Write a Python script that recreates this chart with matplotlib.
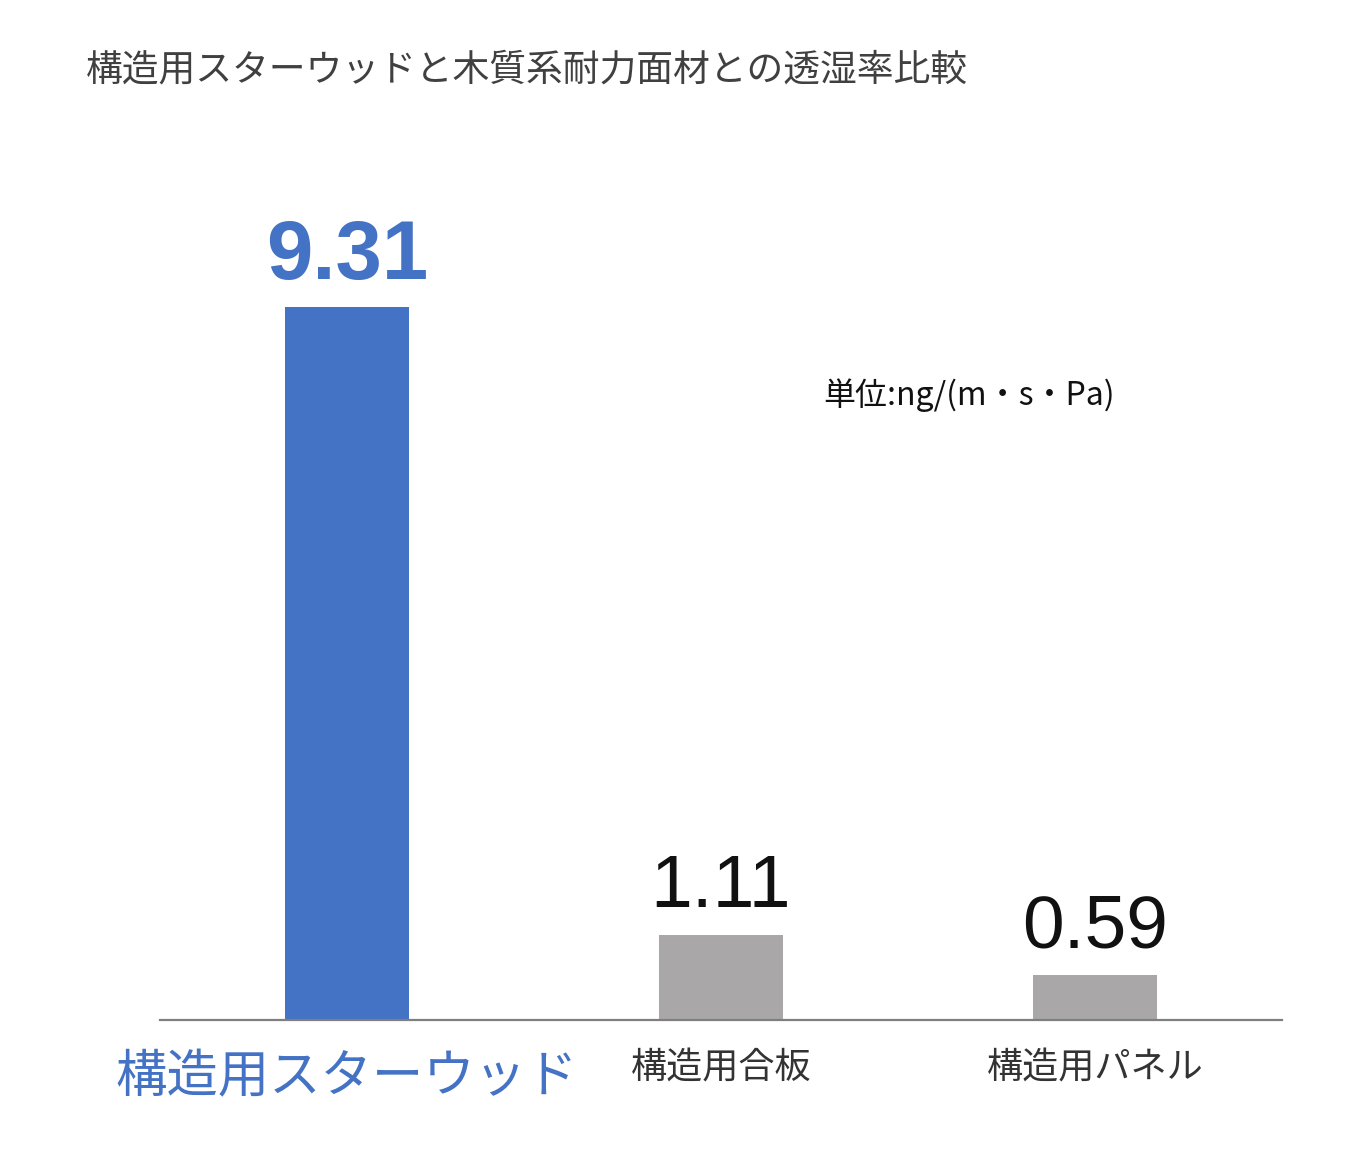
import matplotlib

matplotlib.use("Agg")
import matplotlib.pyplot as plt

plt.rcParams["font.family"] = ["Noto Sans CJK JP", "DejaVu Sans"]

# Data -----------------------------------------------------------------------
categories = ["構造用スターウッド", "構造用合板", "構造用パネル"]
values = [9.31, 1.11, 0.59]
value_labels = ["9.31", "1.11", "0.59"]

BLUE = "#4472C4"
GRAY = "#A9A7A7"
bar_colors = [BLUE, GRAY, GRAY]
label_colors = [BLUE, "#111111", "#111111"]
label_sizes = [37, 26, 26]
value_sizes = [60, 54, 54]

fig = plt.figure(figsize=(13.6, 11.7), dpi=100)
ax = fig.add_axes([160 / 1360, 150 / 1170, (1282 - 160) / 1360, 0.72])

x = range(len(categories))
bars = ax.bar(x, values, width=0.334, color=bar_colors)

ax.set_xlim(-0.5, 2.5)
ax.set_ylim(0, 9.31 * 843.0 / 714.0)

# value labels above bars
for xi, v, txt, c, s in zip(x, values, value_labels, label_colors, value_sizes):
    bold = "bold" if c == BLUE else "normal"
    ax.annotate(txt, (xi, v), xytext=(0, 20), textcoords="offset points",
                ha="center", va="baseline", fontsize=s, color=c,
                fontweight=bold, family=["Liberation Sans", "DejaVu Sans"])

ax.set_xticks(list(x))
ax.set_xticklabels(categories)
for lab, c, s in zip(ax.get_xticklabels(), label_colors, label_sizes):
    lab.set_color(c if c == BLUE else "#333333")
    lab.set_fontsize(s)
ax.tick_params(axis="x", length=0, pad=22)
ax.set_yticks([])

for side in ["top", "left", "right"]:
    ax.spines[side].set_visible(False)
ax.spines["bottom"].set_color("#7f7f7f")
ax.spines["bottom"].set_linewidth(1.6)

fig.text(86 / 1360, 1 - 70 / 1170, "構造用スターウッドと木質系耐力面材との透湿率比較",
         fontsize=26.5, color="#404040", va="center", ha="left")
fig.text(823 / 1360, 1 - 395 / 1170, "単位:ng/(m・s・Pa)",
         fontsize=23, color="#111111", va="center", ha="left")

fig.savefig("out.png", dpi=100)
